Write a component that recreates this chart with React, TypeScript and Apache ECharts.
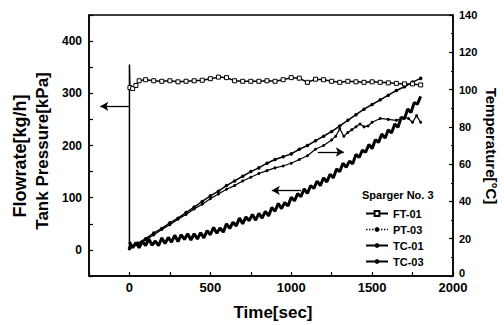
import React, { useEffect, useRef } from "react";
import * as echarts from "echarts";

// ---- data ----
// FT-01 flowrate [kg/h], left axis
const ftTime = [0, 0, 3, 20, 40, 60, 100, 150, 200, 250, 300, 350, 400, 450, 500, 550, 600, 650, 700, 750, 800, 850, 900, 950, 1000, 1050, 1100, 1150, 1200, 1250, 1300, 1350, 1400, 1450, 1500, 1550, 1600, 1650, 1700, 1750, 1800];
const ftValue = [0, 355, 311, 309, 315, 324, 326, 324, 323, 324, 322, 323, 324, 325, 328, 331, 330, 324, 323, 323, 323, 324, 323, 326, 330, 329, 321, 327, 326, 323, 321, 323, 322, 321, 322, 321, 320, 319, 318, 318, 316];

// PT-03 tank pressure [kPa], left axis (noisy trace, every 20 s)
const ptTime = [0, 20, 40, 60, 80, 100, 120, 140, 160, 180, 200, 220, 240, 260, 280, 300, 320, 340, 360, 380, 400, 420, 440, 460, 480, 500, 520, 540, 560, 580, 600, 620, 640, 660, 680, 700, 720, 740, 760, 780, 800, 820, 840, 860, 880, 900, 920, 940, 960, 980, 1000, 1020, 1040, 1060, 1080, 1100, 1120, 1140, 1160, 1180, 1200, 1220, 1240, 1260, 1280, 1300, 1320, 1340, 1360, 1380, 1400, 1420, 1440, 1460, 1480, 1500, 1520, 1540, 1560, 1580, 1600, 1620, 1640, 1660, 1680, 1700, 1720, 1740, 1760, 1780, 1800];
const ptValue = [15, 4, 14, 4, 17, 8, 21, 9, 17, 8, 23, 12, 24, 15, 28, 16, 29, 20, 31, 19, 31, 21, 33, 23, 37, 29, 43, 32, 42, 34, 50, 41, 53, 46, 61, 50, 63, 56, 68, 57, 70, 61, 74, 65, 81, 74, 89, 79, 91, 84, 101, 94, 108, 102, 117, 108, 123, 118, 132, 123, 138, 130, 145, 138, 155, 150, 166, 158, 170, 165, 183, 177, 191, 187, 202, 194, 211, 206, 222, 214, 230, 224, 241, 235, 254, 251, 270, 263, 282, 279, 294];

// TC-01 temperature [°C], right axis
const tc01Time = [0, 50, 100, 150, 200, 250, 300, 350, 400, 450, 500, 550, 600, 650, 700, 750, 800, 850, 900, 950, 1000, 1050, 1100, 1150, 1200, 1250, 1300, 1350, 1400, 1450, 1500, 1550, 1600, 1650, 1700, 1750, 1800];
const tc01Value = [15, 17.5, 20, 23, 25.5, 28.5, 31, 34, 37, 40, 43, 45.5, 48.5, 51, 53.5, 56, 58, 60.5, 62.5, 64, 65.5, 68, 70, 72.5, 75, 77.5, 80.5, 83.5, 86.5, 89.5, 92, 94.5, 97, 99.5, 101.5, 104, 106];

// TC-03 temperature [°C], right axis
const tc03Time = [0, 50, 100, 150, 200, 250, 300, 350, 400, 450, 500, 550, 600, 650, 700, 750, 800, 850, 900, 950, 1000, 1050, 1100, 1150, 1200, 1250, 1275, 1300, 1325, 1350, 1375, 1400, 1425, 1450, 1475, 1500, 1550, 1600, 1650, 1700, 1725, 1750, 1775, 1800];
const tc03Value = [14.5, 17, 19.5, 22, 25, 27.5, 30.5, 33, 36, 38.5, 41.5, 44, 46.5, 48.5, 51, 53, 55, 56.5, 58, 59, 60.5, 62.5, 64.5, 68, 70, 73, 75, 79, 75, 77, 78.5, 80, 81.5, 80, 80.5, 82.5, 84.5, 84, 83.5, 85, 84.5, 82.5, 86, 82.5];

// annotation arrows [fromX, fromY, toX, toY] in data units
const arrowFT = [0, 275, -180, 275];
const arrowTC = [1165, 66.5, 1325, 66.5];
const arrowPT = [1060, 114, 880, 114];

const legendTitle = "Sparger No. 3";
const seriesNames = ["FT-01", "PT-03", "TC-01", "TC-03"];

const FONT = "'Liberation Sans', Arial, Helvetica, sans-serif";

function pairs(t: number[], v: number[]) {
  return t.map((x, i) => [x, v[i]]);
}

function arrow(a: number[]) {
  return [[{ coord: [a[0], a[1]] }, { coord: [a[2], a[3]] }]];
}

const markLineBase = {
  silent: true,
  symbol: ["none", "arrow"],
  symbolSize: [7, 8],
  label: { show: false },
  lineStyle: { color: "#000", width: 1.3, type: "solid" },
  emphasis: { disabled: true },
};

const axisLineStyle = { show: true, onZero: false, lineStyle: { color: "#000", width: 1.5 } };
const tickStyle = { show: true, inside: true, length: 4, lineStyle: { color: "#000", width: 1.2 } };

export default function App() {
  const ref = useRef<HTMLDivElement>(null);
  useEffect(() => {
    const chart = echarts.init(ref.current!, null, { renderer: "svg" });
    const ftData: any[] = pairs(ftTime, ftValue).map((p, i) =>
      i < 2 ? { value: p, symbol: "none" } : p
    );
    const option: any = {
      animation: false,
      backgroundColor: "#fff",
      grid: {
        left: 89,
        right: 51,
        top: 15,
        bottom: 49,
        show: true,
        borderColor: "#000",
        borderWidth: 1.5,
        backgroundColor: "transparent",
      },
      legend: {
        orient: "vertical",
        left: 360,
        top: 203,
        itemWidth: 22,
        itemHeight: 6,
        itemGap: 5,
        textStyle: {
          fontFamily: FONT,
          fontWeight: "bold",
          fontSize: 11,
          color: "#000",
          lineHeight: 11,
        },
        data: [
          { name: seriesNames[0] },
          { name: seriesNames[1], lineStyle: { type: "dotted", width: 1.5 } },
          { name: seriesNames[2] },
          { name: seriesNames[3] },
        ],
      },
      xAxis: {
        type: "value",
        min: -250,
        max: 2000,
        interval: 250,
        axisLine: axisLineStyle,
        axisTick: tickStyle,
        axisLabel: {
          formatter: (v: number) => (v % 500 === 0 ? String(v) : ""),
          fontFamily: FONT,
          fontWeight: "bold",
          fontSize: 13,
          color: "#000",
          margin: 5,
        },
        splitLine: { show: false },
      },
      yAxis: [
        {
          type: "value",
          position: "left",
          min: -50,
          max: 450,
          interval: 50,
          axisLine: axisLineStyle,
          axisTick: tickStyle,
          axisLabel: {
            formatter: (v: number) => (v % 100 === 0 && v >= 0 && v <= 400 ? String(v) : ""),
            fontFamily: FONT,
            fontWeight: "bold",
            fontSize: 12,
            color: "#000",
            margin: 7,
          },
          splitLine: { show: false },
        },
        {
          type: "value",
          position: "right",
          min: 0,
          max: 140,
          interval: 20,
          axisLine: axisLineStyle,
          axisTick: tickStyle,
          minorTick: { show: true, splitNumber: 2, length: 2, lineStyle: { color: "#000", width: 1 } },
          axisLabel: {
            formatter: (v: number) => (v === 0 ? "{z|0}" : String(v)),
            rich: {
              z: {
                fontFamily: FONT,
                fontWeight: "bold",
                fontSize: 11,
                color: "#000",
                padding: [0, 0, 7, 0],
              },
            },
            fontFamily: FONT,
            fontWeight: "bold",
            fontSize: 11,
            color: "#000",
            margin: 6,
          },
          splitLine: { show: false },
        },
      ],
      graphic: [
        {
          type: "text",
          x: 20,
          y: 156,
          rotation: Math.PI / 2,
          style: {
            text: "Flowrate[kg/h]",
            fontFamily: FONT,
            fontWeight: "bold",
            fontSize: 18,
            fill: "#000",
            textAlign: "center",
            textVerticalAlign: "middle",
          },
        },
        {
          type: "text",
          x: 42,
          y: 151,
          rotation: Math.PI / 2,
          style: {
            text: "Tank Pressure[kPa]",
            fontFamily: FONT,
            fontWeight: "bold",
            fontSize: 17,
            fill: "#000",
            textAlign: "center",
            textVerticalAlign: "middle",
          },
        },
        {
          type: "text",
          x: 491,
          y: 146,
          rotation: -Math.PI / 2,
          style: {
            text: "Temperature[°C]",
            fontFamily: FONT,
            fontWeight: "bold",
            fontSize: 15,
            fill: "#000",
            textAlign: "center",
            textVerticalAlign: "middle",
          },
        },
        {
          type: "text",
          x: 273,
          y: 312,
          style: {
            text: "Time[sec]",
            fontFamily: FONT,
            fontWeight: "bold",
            fontSize: 17,
            fill: "#000",
            textAlign: "center",
            textVerticalAlign: "middle",
          },
        },
        {
          type: "text",
          x: 362,
          y: 195,
          style: {
            text: legendTitle,
            fontFamily: FONT,
            fontWeight: "bold",
            fontSize: 11,
            fill: "#000",
            textAlign: "left",
            textVerticalAlign: "middle",
          },
        },
      ],
      series: [
        {
          name: seriesNames[0],
          type: "line",
          yAxisIndex: 0,
          data: ftData,
          symbol: "rect",
          symbolSize: 4,
          itemStyle: { color: "#fff", borderColor: "#000", borderWidth: 1 },
          lineStyle: { color: "#000", width: 1.5 },
          z: 3,
          markLine: { ...markLineBase, data: arrow(arrowFT) },
        },
        {
          name: seriesNames[1],
          type: "line",
          yAxisIndex: 0,
          data: pairs(ptTime, ptValue),
          symbol: "circle",
          symbolSize: 4,
          showSymbol: false,
          itemStyle: { color: "#000" },
          lineStyle: { color: "#000", width: 3 },
          z: 2,
          markLine: { ...markLineBase, data: arrow(arrowPT) },
        },
        {
          name: seriesNames[2],
          type: "line",
          yAxisIndex: 1,
          data: pairs(tc01Time, tc01Value),
          symbol: "circle",
          symbolSize: 3.5,
          itemStyle: { color: "#000" },
          lineStyle: { color: "#000", width: 1.5 },
          z: 2,
          markLine: { ...markLineBase, data: arrow(arrowTC) },
        },
        {
          name: seriesNames[3],
          type: "line",
          yAxisIndex: 1,
          data: pairs(tc03Time, tc03Value),
          symbol: "circle",
          symbolSize: 3,
          itemStyle: { color: "#000" },
          lineStyle: { color: "#000", width: 1.2 },
          z: 2,
        },
      ],
    };
    chart.setOption(option);
    return () => chart.dispose();
  }, []);
  return (
    <div
      ref={ref}
      style={{ position: "fixed", left: 0, top: 0, width: 504, height: 325, background: "#fff" }}
    />
  );
}
